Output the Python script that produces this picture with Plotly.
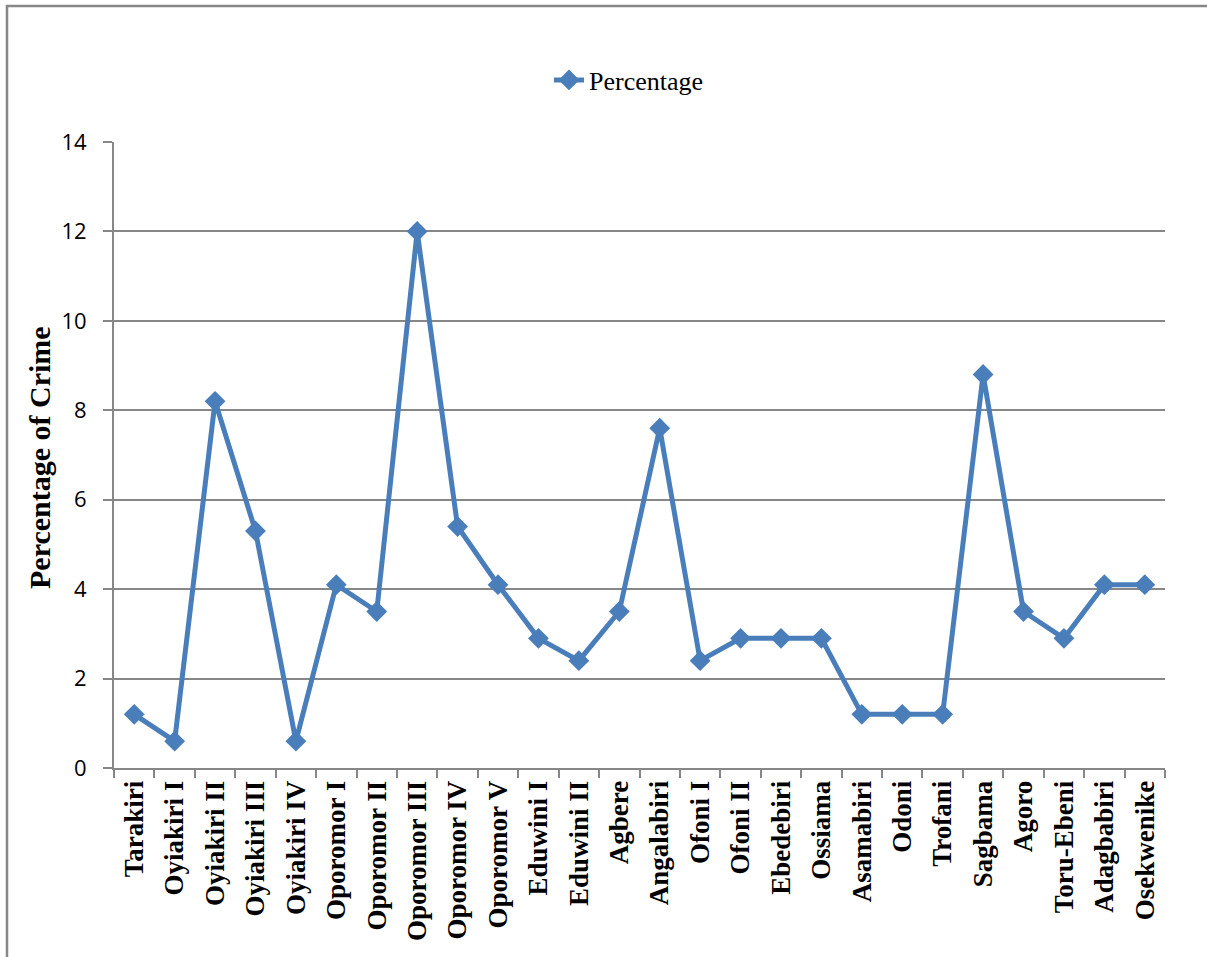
import plotly.graph_objects as go

# Crime share by community
communities = [
    "Tarakiri", "Oyiakiri I", "Oyiakiri II", "Oyiakiri III", "Oyiakiri IV",
    "Oporomor I", "Oporomor II", "Oporomor III", "Oporomor IV", "Oporomor V",
    "Eduwini I", "Eduwini II", "Agbere", "Angalabiri", "Ofoni I", "Ofoni II",
    "Ebedebiri", "Ossiama", "Asamabiri", "Odoni", "Trofani", "Sagbama",
    "Agoro", "Toru-Ebeni", "Adagbabiri", "Osekwenike",
]
percentage = [
    1.2, 0.6, 8.2, 5.3, 0.6,
    4.1, 3.5, 12.0, 5.4, 4.1,
    2.9, 2.4, 3.5, 7.6, 2.4, 2.9,
    2.9, 2.9, 1.2, 1.2, 1.2, 8.8,
    3.5, 2.9, 4.1, 4.1,
]
y_ticks = [0, 2, 4, 6, 8, 10, 12, 14]

W, H = 1207, 957
L, R, T, B = 114, 42, 142, 189
pw, ph = W - L - R, H - T - B

blue = "#4A7EBB"
grey = "#878787"

fig = go.Figure()
fig.add_trace(go.Scatter(
    x=communities, y=percentage, mode="lines+markers", name="Percentage",
    line=dict(color=blue, width=5),
    marker=dict(symbol="diamond", size=16, color=blue),
))

# outer frame (left and top edges)
x0 = (7 - L) / pw
y_top = (H - B - 6) / ph
y_bot = (H - B - H - 5) / ph
fig.add_shape(type="path", xref="paper", yref="paper",
              path=f"M {x0} {y_bot} L {x0} {y_top} L {1 + R / pw + 0.05} {y_top}",
              line=dict(color=grey, width=2.5))

# vertical axis title
fig.add_annotation(
    text="<b>Percentage of Crime</b>", xref="paper", yref="paper",
    x=(39 - L) / pw, y=0.5 - 3 / ph, xanchor="center", yanchor="middle",
    textangle=-90, showarrow=False,
    font=dict(family="Liberation Serif", size=30, color="black"),
)

fig.update_layout(
    width=W, height=H, autosize=False,
    margin=dict(l=L, r=R, t=T, b=B),
    plot_bgcolor="white", paper_bgcolor="white",
    showlegend=True,
    legend=dict(orientation="h", x=0.49, xanchor="center", y=1.0 + (142 - 80) / ph,
                yanchor="middle",
                font=dict(family="Liberation Serif", size=26, color="black")),
    xaxis=dict(
        type="category", tickson="boundaries", ticks="outside", ticklen=8,
        tickcolor=grey, tickwidth=2, showline=True, linecolor=grey, linewidth=2,
        showgrid=False, tickangle=-90, automargin=False,
        tickvals=communities, ticktext=[f"<b>{c}</b>" for c in communities],
        tickfont=dict(family="Liberation Serif", size=27, color="black"),
        range=[-0.5, len(communities) - 0.5], fixedrange=True,
    ),
    yaxis=dict(
        range=[0, 14], tickvals=y_ticks, ticks="outside", ticklen=9,
        tickcolor=grey, tickwidth=2, showline=True, linecolor=grey, linewidth=2,
        showgrid=True, gridcolor=grey, gridwidth=1.5, zeroline=False,
        automargin=False,
        tickfont=dict(family="Open Sans", size=22, color="black"),
        ticklabelstandoff=12,
    ),
)

fig.write_html("out.html")
